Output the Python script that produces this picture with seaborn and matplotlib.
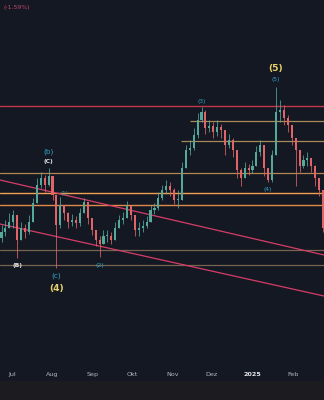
import numpy as np
import pandas as pd
import matplotlib
matplotlib.use("Agg")
import matplotlib.pyplot as plt
import matplotlib.dates as mdates
import seaborn as sns

# ---------------- data (price in chart units) ----------------
start_date = "2024-06-23"
first_open = 128
close = [134, 138, 144, 151, 126, 138, 134, 144, 163, 181, 188, 181, 190, 171, 141, 161,
         153, 144, 146, 143, 153, 164, 148, 136, 126, 122, 130, 130, 126, 138, 146, 148,
         160, 151, 136, 138, 140, 144, 156, 158, 168, 176, 180, 176, 166, 166, 198, 216,
         218, 231, 246, 254, 238, 240, 234, 239, 236, 221, 226, 216, 196, 188, 198, 196,
         200, 214, 221, 198, 186, 211, 254, 256, 248, 241, 228, 216, 200, 206, 208, 200,
         188, 176, 138]
high = [141, 146, 153, 156, 141, 144, 142, 151, 168, 188, 194, 191, 198, 188, 171, 169,
        161, 154, 152, 150, 158, 168, 161, 146, 136, 130, 136, 136, 134, 144, 151, 154,
        165, 161, 150, 144, 146, 150, 161, 163, 174, 181, 186, 184, 178, 176, 204, 221,
        226, 238, 253, 259, 256, 246, 244, 246, 242, 236, 232, 228, 216, 198, 204, 202,
        206, 220, 226, 216, 198, 216, 279, 266, 261, 251, 241, 228, 211, 211, 214, 208,
        201, 188, 176]
low = [124, 130, 138, 138, 108, 131, 128, 132, 146, 166, 178, 174, 180, 166, 98, 138,
       146, 138, 140, 138, 140, 154, 142, 131, 120, 109, 122, 124, 122, 126, 140, 142,
       152, 146, 130, 130, 134, 138, 144, 152, 156, 166, 172, 170, 162, 158, 176, 198,
       211, 216, 228, 244, 232, 234, 228, 230, 228, 211, 218, 209, 188, 180, 190, 191,
       193, 204, 210, 190, 184, 184, 211, 244, 241, 234, 221, 180, 194, 198, 200, 194,
       180, 170, 134]

month_ticks = ["2024-07-01", "2024-08-01", "2024-09-01", "2024-10-01",
               "2024-11-01", "2024-12-01", "2025-01-01", "2025-02-01"]
month_labels = ["Jul", "Aug", "Sep", "Okt", "Nov", "Dez", "2025", "Feb"]

red_level = 260
tan_levels_right = [245.3, 225.3]
tan_levels = [193]
orange_levels = [173.5, 161]
grey_levels = [116, 101]
trend_upper = [186, 111]
trend_lower = [142, 70]

# wave labels: text, candle index, side, colour, size
waves = [
    ("(b)", 12, "high", 16, "#35a3c6", 5.2, "normal"),
    ("(C)", 12, "high", 7, "#e6e6e6", 4.3, "bold"),
    ("(B)", 4, "low", 8, "#e6e6e6", 4.3, "bold"),
    ("(c)", 14, "low", 8, "#35a3c6", 5.2, "normal"),
    ("(4)", 14, "low", 21, "#e8d36a", 6.6, "bold"),
    ("(1)", 16, "high", 12, "#3aa58f", 4.0, "normal"),
    ("(2)", 25, "low", 9, "#35a3c6", 4.5, "normal"),
    ("(3)", 51, "high", 6, "#35a3c6", 4.2, "normal"),
    ("(4)", 68, "low", 7, "#35a3c6", 4.2, "normal"),
    ("(5)", 70, "high", 7, "#35a3c6", 4.2, "normal"),
    ("(5)", 70, "high", 18, "#e8d36a", 6.6, "bold"),
]

# ---------------- build frame ----------------
dates = pd.date_range(start_date, periods=len(close), freq="3D")
opens = [first_open] + close[:-1]
df = pd.DataFrame({"date": dates, "open": opens, "close": close, "high": high, "low": low})
df["hi"] = df[["high", "open", "close"]].max(axis=1)
df["lo"] = df[["low", "open", "close"]].min(axis=1)
df["up"] = df["close"] >= df["open"]

BG = "#141823"
sns.set_theme(style="dark", rc={"axes.facecolor": BG, "figure.facecolor": "#1c1c20",
                                 "axes.edgecolor": BG, "grid.color": BG})

fig = plt.figure(figsize=(3.24, 4.0), dpi=100)
# time-axis strip
strip = fig.add_axes([0, 19 / 400, 1, 15 / 400])
strip.set_facecolor(BG)
strip.set_xticks([]); strip.set_yticks([])
for s in strip.spines.values():
    s.set_visible(False)

ax = fig.add_axes([0, 34 / 400, 1, 366 / 400])
ax.set_facecolor(BG)
x0 = mdates.date2num(pd.Timestamp("2024-06-21 20:00"))
x1 = mdates.date2num(pd.Timestamp("2025-02-24 17:00"))
ax.set_xlim(x0, x1)
ax.set_ylim(0, 366)
ax.grid(False)

# levels
ax.axhline(red_level, color="#c0374a", lw=1.0, zorder=1)
for lv, xs in zip(tan_levels_right, ["2024-11-14", "2024-11-07"]):
    ax.hlines(lv, mdates.date2num(pd.Timestamp(xs)), x1, color="#a88a5a", lw=0.9, zorder=1)
for lv in tan_levels:
    ax.axhline(lv, color="#b5874f", lw=0.9, zorder=1)
ax.axhline(orange_levels[0], color="#f0a050", lw=1.0, zorder=1)
ax.axhline(orange_levels[1], color="#e08a48", lw=1.0, zorder=1)
for lv in grey_levels:
    ax.axhline(lv, color="#7a6450", lw=0.9, zorder=1)

# trend lines
ax.plot([x0, x1], trend_upper, color="#d63d68", lw=0.9, zorder=1)
ax.plot([x0, x1], trend_lower, color="#d63d68", lw=0.9, zorder=1)

# candles
up_c, dn_c = "#55a99b", "#e06468"
cols = np.where(df["up"], up_c, dn_c)
xd = mdates.date2num(df["date"])
ax.vlines(xd, df["lo"], df["hi"], colors=cols, lw=0.55, zorder=3)
body_h = np.maximum((df["close"] - df["open"]).abs(), 1.0)
body_b = df[["open", "close"]].min(axis=1)
ax.bar(xd, body_h, bottom=body_b, width=1.6, color=cols, edgecolor="none", zorder=4)

# wave labels
for txt, i, side, off, col, fs, fw in waves:
    yv = df["hi"].iloc[i] if side == "high" else df["lo"].iloc[i]
    dy = off if side == "high" else -off
    ax.annotate(txt, (xd[i], yv), xytext=(0, dy), textcoords="offset pixels",
                ha="center", va="center", color=col, fontsize=fs, fontweight=fw, zorder=6)

# axis labels
ax.set_yticks([])
ax.set_xticks([mdates.date2num(pd.Timestamp(t)) for t in month_ticks])
ax.set_xticklabels(month_labels)
ax.tick_params(axis="x", length=0, pad=4.5, labelsize=4.6, labelcolor="#b2b5be")
for lab in ax.get_xticklabels():
    if lab.get_text() == "2025":
        lab.set_fontweight("bold")
        lab.set_color("#e6e6ea")
for s in ax.spines.values():
    s.set_visible(False)
ax.axhline(0, color="#2a2e39", lw=0.8, zorder=0)

fig.text(3 / 324, 1 - 8 / 400, "(-1.59%)", color="#c9466a", fontsize=4.4, va="center", ha="left")

fig.savefig("out.png", dpi=100, facecolor=fig.get_facecolor())
